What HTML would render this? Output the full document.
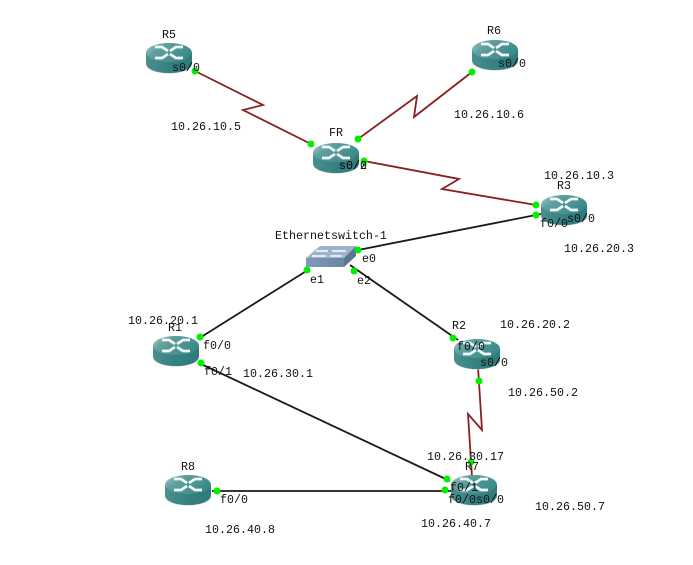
<!DOCTYPE html>
<html>
<head>
<meta charset="utf-8">
<style>
html,body{margin:0;padding:0;background:#fff;width:693px;height:565px;overflow:hidden}
svg{display:block}
text{font-family:"Liberation Mono","Noto Serif CJK SC",monospace;font-size:11.67px;fill:#111}
.r{fill:none;stroke:#8b1f1f;stroke-width:1.8}
.b{fill:none;stroke:#1a1a1a;stroke-width:1.8}
.d{fill:#00f000}
</style>
</head>
<body>
<svg width="693" height="565" viewBox="0 0 693 565" xmlns="http://www.w3.org/2000/svg">
<defs>
<linearGradient id="top" x1="0" y1="0" x2="1" y2="0.5">
<stop offset="0" stop-color="#a9c9c9"/><stop offset="0.35" stop-color="#5f9f9f"/><stop offset="1" stop-color="#3a8a8a"/>
</linearGradient>
<linearGradient id="side" x1="0" y1="0" x2="1" y2="0">
<stop offset="0" stop-color="#4a8f8f"/><stop offset="0.5" stop-color="#358080"/><stop offset="1" stop-color="#2f7a7a"/>
</linearGradient>
<linearGradient id="sw" x1="0" y1="0" x2="1" y2="0">
<stop offset="0" stop-color="#7f9ab8"/><stop offset="1" stop-color="#6b86a5"/>
</linearGradient>
<g id="router">
<ellipse cx="23" cy="21.5" rx="23" ry="9" fill="#c4cccc"/>
<path d="M0 9.5 V20 C0 26 10 30 23 30 C36 30 46 26 46 20 V9.5 Z" fill="url(#side)"/>
<ellipse cx="23" cy="9.5" rx="23" ry="9.5" fill="url(#top)"/>
<path d="M9 4 L16 4 L22 8 M37 4 L30 4 L24 8 M9 15 L16 15 L22 11 M37 15 L30 15 L24 11" fill="none" stroke="#f2f8f8" stroke-width="2.8"/>
</g>
</defs>

<!-- red serial links -->
<polyline class="r" points="195,71 263,105 243,110 311,144"/>
<polyline class="r" points="358,139 417,96 414,117 472,72"/>
<polyline class="r" points="364,161 459,179 442,189 536,205"/>
<polyline class="r" points="478,367 482,430 468,414 472,477"/>

<!-- black ethernet links -->
<line class="b" x1="541" y1="214" x2="358" y2="250"/>
<line class="b" x1="308" y1="270" x2="198" y2="339"/>
<line class="b" x1="350" y1="265" x2="458" y2="340"/>
<line class="b" x1="201" y1="364" x2="450" y2="481"/>
<line class="b" x1="212" y1="491" x2="452" y2="491"/>

<!-- routers -->
<use href="#router" x="146" y="43"/>
<use href="#router" x="472" y="40"/>
<use href="#router" x="313" y="143"/>
<use href="#router" x="541" y="195"/>
<use href="#router" x="153" y="336"/>
<use href="#router" x="454" y="339"/>
<use href="#router" x="451" y="475"/>
<use href="#router" x="165" y="475"/>

<!-- switch -->
<polygon points="306,258 320,246 356,246 344,258" fill="#9db2cb"/>
<path d="M316 251 H328 M332 251 H346 M312 256 H326 M330 256 H342" stroke="#e4ebf3" stroke-width="2"/>
<polygon points="306,258 344,258 344,267 306,267" fill="url(#sw)"/>
<polygon points="344,258 356,246 356,256 344,267" fill="#5a7592"/>

<!-- green dots -->
<g class="d">
<circle cx="195" cy="71" r="3.5"/>
<circle cx="311" cy="144" r="3.5"/>
<circle cx="358" cy="139" r="3.5"/>
<circle cx="472" cy="72" r="3.5"/>
<circle cx="364" cy="161" r="3.5"/>
<circle cx="536" cy="205" r="3.5"/>
<circle cx="536" cy="215" r="3.5"/>
<circle cx="358" cy="250" r="3.5"/>
<circle cx="307" cy="270" r="3.5"/>
<circle cx="354" cy="271" r="3.5"/>
<circle cx="200" cy="337" r="3.5"/>
<circle cx="201" cy="363" r="3.5"/>
<circle cx="453" cy="338" r="3.5"/>
<circle cx="479" cy="381" r="3.5"/>
<circle cx="471" cy="462" r="3.5"/>
<circle cx="447" cy="479" r="3.5"/>
<circle cx="445" cy="490" r="3.5"/>
<circle cx="217" cy="491" r="3.5"/>
</g>

<!-- labels -->
<g transform="translate(0 -1)">
<text x="162" y="39">R5</text>
<text x="172" y="72">s0/0</text>
<text x="171" y="131">10.26.10.5</text>

<text x="329" y="137">FR</text>
<text x="339" y="170">s0/0</text>
<text x="339" y="170">s0/2</text>

<text x="487" y="35">R6</text>
<text x="498" y="68">s0/0</text>
<text x="454" y="119">10.26.10.6</text>

<text x="544" y="180">10.26.10.3</text>
<text x="557" y="190">R3</text>
<text x="567" y="223">s0/0</text>
<text x="540" y="228">f0/0</text>
<text x="564" y="253">10.26.20.3</text>

<text x="275" y="240">Ethernetswitch-1</text>
<text x="362" y="263">e0</text>
<text x="310" y="284">e1</text>
<text x="357" y="285">e2</text>

<text x="128" y="325">10.26.20.1</text>
<text x="168" y="332">R1</text>
<text x="203" y="350">f0/0</text>
<text x="204" y="376">f0/1</text>
<text x="243" y="378">10.26.30.1</text>

<text x="452" y="330">R2</text>
<text x="500" y="329">10.26.20.2</text>
<text x="457" y="351">f0/0</text>
<text x="480" y="367">s0/0</text>
<text x="508" y="397">10.26.50.2</text>

<text x="427" y="461">10.26.30.17</text>
<text x="465" y="471">R7</text>
<text x="450" y="492">f0/1</text>
<text x="448" y="504">f0/0</text>
<text x="476" y="504">s0/0</text>
<text x="535" y="511">10.26.50.7</text>
<text x="421" y="528">10.26.40.7</text>

<text x="181" y="471">R8</text>
<text x="220" y="504">f0/0</text>
<text x="205" y="534">10.26.40.8</text>
</g>
</svg>
</body>
</html>
